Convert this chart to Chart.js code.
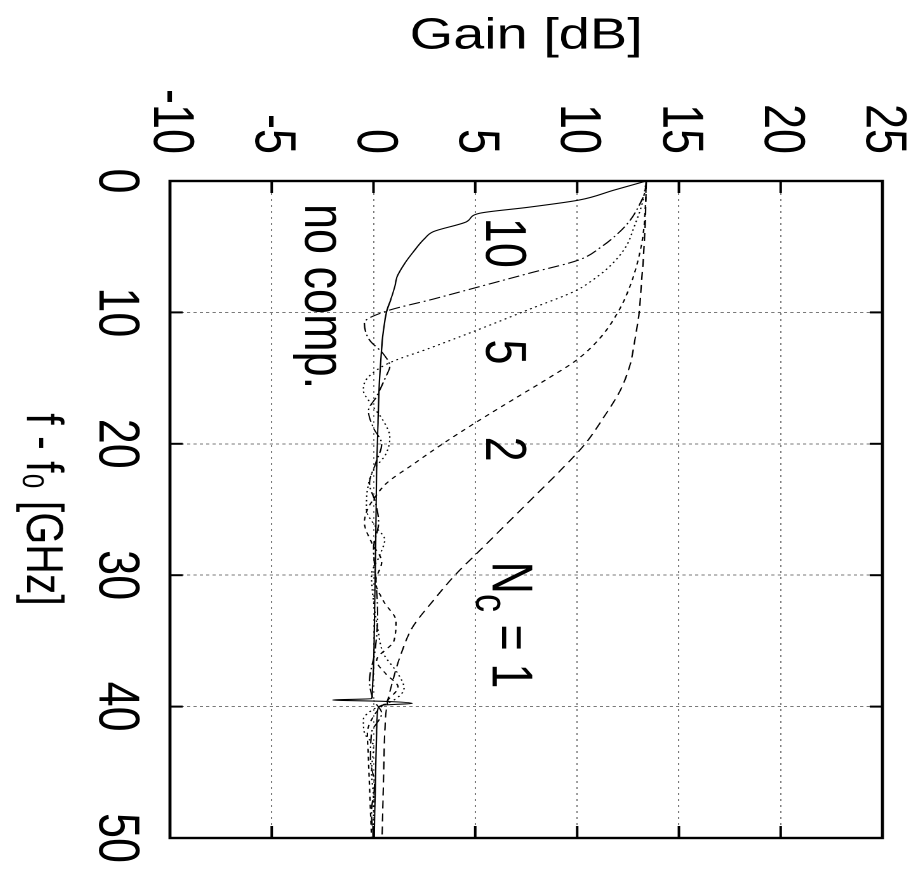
<!DOCTYPE html>
<html>
<head>
<meta charset="utf-8">
<script src="https://cdn.jsdelivr.net/npm/chart.js@4.4.1/dist/chart.umd.min.js"></script>
<style>
    html, body { margin: 0; padding: 0; background: #fff; overflow: hidden; }
    #wrap { position: relative; width: 914px; height: 888px; overflow: hidden; }
    /* the plot is drawn upright and then turned a quarter turn clockwise, like the printed figure */
    #gainChart {
        position: absolute;
        left: 13px;
        top: 84px;
        width: 888px;
        height: 720px;
        transform-origin: 50% 50%;
        transform: rotate(90deg) scaleY(1.27);
    }
</style>
</head>
<body>
<div id="wrap"><canvas id="gainChart" width="888" height="720"></canvas></div>
<script>
// axis ticks
const freqTicks = [0, 10, 20, 30, 40, 50];      // f - f0 [GHz]
const gainTicks = [-10, -5, 0, 5, 10, 15, 20, 25]; // Gain [dB]

// no compensation (solid)
const freqNoComp = [0, 0.7, 1.45, 2.0, 2.46, 3.1, 3.86, 4.4, 5.4, 6.25, 7.3, 8.0, 9.0, 9.94, 11.5, 12.9, 15, 18.4, 22, 26, 30, 34, 37, 39.2, 39.4, 39.5, 39.6, 39.75, 39.9, 40.3, 42, 45, 48, 50];
const gainNoComp = [13.4, 11.8, 10.1, 7.6, 5.2, 4.57, 2.93, 2.5, 1.95, 1.54, 1.15, 1.05, 0.85, 0.64, 0.48, 0.39, 0.3, 0.22, 0.15, 0.12, 0.08, 0.04, 0.0, -0.07, -0.1, -2.0, 0.5, 1.9, 0.4, 0.2, 0.15, 0.1, 0.06, 0.03];

// Nc = 10 (dash-dot)
const freqNc10 = [0, 1, 2, 3, 4, 5, 6, 7, 8, 9, 9.9, 10.8, 12.1, 13.1, 14.1, 14.9, 16.4, 17.5, 18.8, 20, 21.5, 23, 24.5, 26, 28, 30, 33, 36, 38, 39.5, 40.5, 42, 44, 46, 48, 50];
const gainNc10 = [13.4, 13.3, 13.0, 12.6, 12.0, 11.2, 10.1, 7.7, 5.3, 2.9, 0.64, -0.45, -0.2, 0.45, 0.8, 0.6, 0.15, -0.25, 0.0, 0.4, 0.1, -0.2, 0.1, 0.25, 0.0, 0.1, 0.2, 0.05, -0.2, 0.0, 0.4, -0.1, -0.15, 0.05, -0.1, 0.0];

// Nc = 5 (dotted)
const freqNc5 = [0, 1.7, 3.5, 5, 6.5, 7.5, 8.3, 9.8, 11.4, 12.7, 13.9, 15, 15.9, 17, 18.3, 19.5, 20.8, 22, 23.5, 25, 26.3, 27.3, 28.5, 30, 32, 34, 36, 37.5, 38.6, 39.5, 40.2, 41, 42, 43, 45, 47, 50];
const gainNc5 = [13.4, 13.2, 12.8, 12.4, 11.6, 10.8, 10.0, 7.6, 5.0, 2.8, 0.7, -0.3, -0.5, -0.1, 0.5, 0.8, 0.6, 0.0, -0.3, -0.35, 0.1, 0.55, 0.3, -0.1, 0.0, 0.2, 0.5, 1.2, 1.5, 1.0, 0.0, -0.5, -0.45, 0.0, -0.1, 0.0, 0.0];

// Nc = 2 (short dash)
const freqNc2 = [0, 2, 4, 6, 8, 10, 12, 13.6, 15, 16.5, 18.4, 20, 21.5, 23, 24, 25, 26, 27.5, 29, 30.5, 32, 33.5, 35, 36.5, 37.5, 38.5, 39.5, 40.5, 42, 44, 46, 48, 50];
const gainNc2 = [13.4, 13.35, 13.25, 13.0, 12.6, 12.0, 11.1, 10.0, 8.6, 7.0, 5.0, 3.4, 2.0, 0.64, 0.1, -0.3, -0.45, -0.1, 0.4, 0.1, 0.5, 1.1, 1.0, 0.15, 0.6, 1.2, 0.7, 0.1, -0.3, -0.25, -0.2, -0.15, -0.1];

// Nc = 1 (long dash)
const freqNc1 = [0, 3, 6, 8, 10, 12, 14, 16, 18, 20, 22, 24, 26, 28, 30, 32, 34, 36, 38, 40, 42, 45, 50];
const gainNc1 = [13.4, 13.35, 13.25, 13.15, 13.05, 12.85, 12.6, 12.1, 11.3, 10.4, 9.2, 7.9, 6.6, 5.3, 4.0, 2.9, 1.9, 1.35, 0.95, 0.65, 0.55, 0.5, 0.42];

const FONT = '"Liberation Sans", Arial, Helvetica, sans-serif';

function toPoints(xs, ys) {
    return xs.map((f, i) => ({ x: f, y: ys[i] }));
}

function curve(label, xs, ys, dash) {
    return {
        label: label,
        data: toPoints(xs, ys),
        borderColor: "#000",
        borderWidth: 1.1,
        borderDash: dash,
        pointRadius: 0,
        fill: false,
        cubicInterpolationMode: "monotone"
    };
}

// frame with inward ticks on all four sides, plus the curve labels
const framePlugin = {
    id: "frame",
    afterDatasetsDraw(chart) {
        const { ctx, chartArea: a, scales: { x, y } } = chart;
        ctx.save();
        ctx.strokeStyle = "#000";
        ctx.lineWidth = 2.4;
        ctx.setLineDash([]);
        ctx.strokeRect(a.left, a.top, a.right - a.left, a.bottom - a.top);

        ctx.lineWidth = 2;
        ctx.beginPath();
        freqTicks.forEach(v => {
            const px = x.getPixelForValue(v);
            ctx.moveTo(px, a.bottom); ctx.lineTo(px, a.bottom - 10);
            ctx.moveTo(px, a.top); ctx.lineTo(px, a.top + 10);
        });
        gainTicks.forEach(v => {
            const py = y.getPixelForValue(v);
            ctx.moveTo(a.left, py); ctx.lineTo(a.left + 12, py);
            ctx.moveTo(a.right, py); ctx.lineTo(a.right - 12, py);
        });
        ctx.stroke();

        // curve labels
        ctx.fillStyle = "#000";
        ctx.textAlign = "left";
        ctx.textBaseline = "alphabetic";
        ctx.font = "45px " + FONT;
        ctx.fillText("no comp.", x.getPixelForValue(1.75), y.getPixelForValue(-3.37));
        ctx.fillText("10", x.getPixelForValue(2.8), y.getPixelForValue(5.55));
        ctx.fillText("5", x.getPixelForValue(12.06), y.getPixelForValue(5.55));
        ctx.fillText("2", x.getPixelForValue(19.45), y.getPixelForValue(5.55));

        // N_c = 1 with a real subscript
        let px = x.getPixelForValue(28.96);
        const py = y.getPixelForValue(5.86);
        ctx.fillText("N", px, py);
        px += ctx.measureText("N").width;
        ctx.font = "36px " + FONT;
        ctx.fillText("c", px, py + 13);
        px += ctx.measureText("c").width;
        ctx.font = "45px " + FONT;
        ctx.fillText(" = 1", px, py);

        ctx.restore();
    }
};

const ctx = document.getElementById("gainChart").getContext("2d");
const gainChart = new Chart(ctx, {
    type: "line",
    data: {
        datasets: [
            curve("no comp.", freqNoComp, gainNoComp, []),
            curve("Nc = 10", freqNc10, gainNc10, [9, 3, 1.5, 3]),
            curve("Nc = 5", freqNc5, gainNc5, [1.5, 3]),
            curve("Nc = 2", freqNc2, gainNc2, [4, 4]),
            curve("Nc = 1", freqNc1, gainNc1, [8, 5])
        ]
    },
    options: {
        responsive: false,
        animation: false,
        devicePixelRatio: 2,
        layout: { padding: { top: 25, right: 50, bottom: 0, left: 0 } },
        plugins: {
            legend: { display: false },
            tooltip: { enabled: false }
        },
        scales: {
            x: {
                type: "linear",
                position: "bottom",
                min: 0,
                max: 50,
                afterBuildTicks: scale => { scale.ticks = freqTicks.map(v => ({ value: v })); },
                afterFit: scale => {
                    scale.height = 134;
                    scale.paddingLeft = 0;
                    scale.paddingRight = 0;
                },
                ticks: {
                    autoSkip: false,
                    maxRotation: 0,
                    padding: 16,
                    color: "#000",
                    font: { family: FONT, size: 45 }
                },
                grid: { color: "#7a7a7a", lineWidth: 1, drawTicks: false },
                border: { display: false, dash: [2.5, 2.5] },
                title: {
                    display: true,
                    text: "f - f\u2080 [GHz]",
                    color: "#000",
                    font: { family: FONT, size: 41 },
                    padding: { top: 0, bottom: 8 }
                }
            },
            y: {
                type: "linear",
                min: -10,
                max: 25,
                afterBuildTicks: scale => { scale.ticks = gainTicks.map(v => ({ value: v })); },
                afterFit: scale => {
                    scale.width = 181;
                    scale.paddingTop = 0;
                    scale.paddingBottom = 0;
                },
                ticks: {
                    autoSkip: false,
                    padding: 27,
                    color: "#000",
                    font: { family: FONT, size: 45 }
                },
                grid: { color: "#7a7a7a", lineWidth: 1, drawTicks: false },
                border: { display: false, dash: [2, 4] },
                title: {
                    display: true,
                    text: "Gain [dB]",
                    color: "#000",
                    font: { family: FONT, size: 44 },
                    padding: { top: 10, bottom: 0 }
                }
            }
        }
    },
    plugins: [framePlugin]
});
</script>
</body>
</html>
